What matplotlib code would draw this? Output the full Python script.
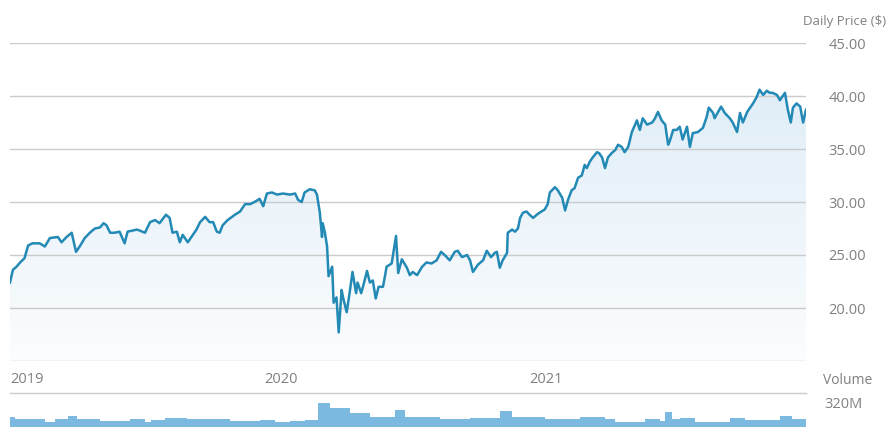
import numpy as np
import pandas as pd
import matplotlib
matplotlib.use('Agg')
import matplotlib.pyplot as plt
import matplotlib.dates as mdates
from matplotlib.transforms import ScaledTranslation

plt.rcParams['font.family'] = ['Open Sans', 'DejaVu Sans']

# days since 2019-01-01 and daily close ($)
DAY_OFFSETS = [
    -8, -4, 1, 6, 12, 17, 23, 33, 40, 47, 58, 63, 70, 77, 83, 88, 95, 102, 109, 116,
    121, 125, 130, 136, 143, 150, 154, 167, 171, 178, 185, 192, 198, 207, 212, 216, 222, 226, 230, 237,
    244, 249, 254, 261, 267, 272, 277, 281, 285, 292, 302, 309, 316, 323, 329, 336, 341, 346, 353, 360,
    368, 378, 385, 389, 394, 398, 405, 412, 415, 419, 422, 423, 426, 429, 431, 436, 438, 442, 445, 449,
    451, 456, 460, 464, 469, 471, 476, 480, 484, 488, 492, 496, 500, 506, 509, 511, 518, 524, 527, 532,
    539, 543, 547, 553, 560, 566, 573, 580, 586, 591, 598, 605, 609, 615, 622, 626, 630, 637, 644, 649,
    655, 660, 663, 667, 671, 677, 678, 684, 688, 692, 695, 699, 704, 708, 713, 718, 722, 729, 733, 736,
    743, 747, 753, 757, 761, 766, 770, 775, 780, 784, 787, 791, 795, 801, 804, 808, 812, 816, 821, 826,
    830, 835, 839, 844, 849, 856, 860, 864, 870, 877, 881, 885, 890, 895, 899, 901, 906, 911, 915, 919,
    925, 929, 933, 940, 947, 952, 955, 961, 963, 968, 972, 977, 984, 988, 994, 998, 1002, 1008, 1012, 1016,
    1021, 1025, 1030, 1035, 1039, 1043, 1049, 1053, 1060, 1064, 1068, 1071, 1076, 1081, 1085, 1089,
]
PRICES = [
    22.4, 23.6, 23.9, 24.3, 24.7, 25.9, 26.1, 26.1, 25.8, 26.6, 26.7, 26.2, 26.7, 27.1, 25.3, 25.8, 26.6, 27.1, 27.5, 27.6,
    28.0, 27.8, 27.1, 27.1, 27.2, 26.1, 27.2, 27.4, 27.3, 27.1, 28.1, 28.3, 28.0, 28.8, 28.5, 27.1, 27.2, 26.2, 26.9, 26.2,
    26.9, 27.4, 28.1, 28.6, 28.1, 28.1, 27.2, 27.1, 27.8, 28.3, 28.8, 29.1, 29.8, 29.8, 30.0, 30.3, 29.6, 30.8, 30.9, 30.7,
    30.8, 30.7, 30.8, 30.2, 30.0, 30.9, 31.2, 31.1, 30.7, 29.0, 26.7, 28.0, 27.1, 25.8, 23.0, 23.9, 20.5, 21.0, 17.7, 21.7,
    21.0, 19.6, 21.4, 23.4, 21.4, 22.4, 21.4, 22.4, 23.5, 22.4, 22.6, 20.9, 22.0, 22.0, 23.1, 23.9, 24.2, 26.8, 23.3, 24.6,
    23.8, 23.1, 23.4, 23.1, 23.9, 24.3, 24.2, 24.5, 25.3, 25.0, 24.5, 25.3, 25.4, 24.8, 25.0, 24.5, 23.4, 24.1, 24.5, 25.4,
    24.8, 25.2, 25.3, 23.8, 24.5, 25.2, 27.1, 27.4, 27.2, 27.5, 28.5, 29.0, 29.1, 28.8, 28.5, 28.8, 29.0, 29.3, 29.8, 30.9,
    31.4, 31.1, 30.4, 29.2, 30.2, 31.1, 31.3, 32.3, 32.5, 33.5, 33.2, 33.8, 34.2, 34.7, 34.6, 34.2, 33.2, 34.2, 34.6, 34.9,
    35.4, 35.2, 34.7, 35.2, 36.6, 37.7, 36.8, 37.9, 37.3, 37.5, 37.9, 38.5, 37.7, 37.3, 35.4, 35.7, 36.8, 36.8, 37.1, 35.9,
    37.1, 35.2, 36.5, 36.6, 37.0, 38.0, 38.9, 38.4, 37.9, 38.5, 39.0, 38.4, 37.9, 37.5, 36.6, 38.4, 37.5, 38.5, 38.9, 39.3,
    39.9, 40.6, 40.1, 40.5, 40.3, 40.3, 40.1, 39.6, 40.3, 38.7, 37.5, 38.9, 39.3, 39.0, 37.5, 38.7,
]

# volume blocks: start day and volume (millions)
VOL_START = [
    -8, -1, 40, 54, 72, 85, 116, 157, 178, 187, 205, 236, 295, 336, 357, 378, 398, 416, 433, 460,
    488, 522, 536, 584, 626, 667, 684, 729, 777, 812, 826, 867, 888, 894, 905, 915, 936, 984, 1005, 1053,
    1070,
]
VOLUME_M = [
    133, 106, 73, 106, 146, 100, 80, 100, 73, 93, 126, 100, 80, 93, 73, 80, 93, 320, 253, 186,
    133, 226, 133, 106, 120, 213, 133, 106, 133, 100, 73, 100, 80, 200, 106, 120, 73, 120, 93, 146,
    106,
]
END_DAY = 1089

YEAR_TICKS = ['2019-01-01', '2020-01-01', '2021-01-01']
YEAR_LABELS = ['2019', '2020', '2021']
PRICE_TICKS = [20, 25, 30, 35, 40, 45]

LINE_COLOR = '#2389b5'
GRID_COLOR = '#cbcbcb'
TEXT_COLOR = '#808080'
VOL_COLOR = '#7cb9e1'

base = pd.Timestamp('2019-01-01')
dates = base + pd.to_timedelta(DAY_OFFSETS, unit='D')
x = mdates.date2num(dates.to_pydatetime())
vol_edges = mdates.date2num((base + pd.to_timedelta(VOL_START + [END_DAY], unit='D')).to_pydatetime())
vol_vals = VOLUME_M + [VOLUME_M[-1]]

W, H = 886, 444
fig = plt.figure(figsize=(W / 100, H / 100), dpi=100)

left = 10 / W
width = 796 / W
ax = fig.add_axes([left, 1 - 361 / H, width, (361 - 43) / H])
axv = fig.add_axes([left, 1 - 427 / H, width, (427 - 393) / H])

ymin, ymax = 15, 45

# gradient fill under the line
poly = ax.fill_between(x, PRICES, ymin, color='none', lw=0)
grad = np.linspace(0, 1, 256).reshape(-1, 1)
cmap = matplotlib.colors.LinearSegmentedColormap.from_list('g', ['#fbfdfe', '#dcebf7'])
img = ax.imshow(grad, cmap=cmap, aspect='auto', origin='lower',
                extent=[x[0], x[-1], ymin, ymax], zorder=1)
img.set_clip_path(poly.get_paths()[0], transform=ax.transData)
ax.set_xlim(x[0], x[-1])
ax.set_ylim(ymin, ymax)

for v in range(15, 50, 5):
    ax.axhline(v, color=GRID_COLOR, lw=1.0, zorder=2)
ax.plot(x, PRICES, color=LINE_COLOR, lw=1.8, zorder=3, solid_joinstyle='round')

for s in ax.spines.values():
    s.set_visible(False)
ax.yaxis.tick_right()
ax.set_yticks(PRICE_TICKS)
ax.set_yticklabels([f'{p:.2f}' for p in PRICE_TICKS])
ax.tick_params(axis='y', length=0, pad=16, labelsize=10.5, labelcolor=TEXT_COLOR)

xt = mdates.date2num(pd.to_datetime(YEAR_TICKS).to_pydatetime())
ax.set_xticks(xt)
ax.set_xticklabels(YEAR_LABELS)
ax.tick_params(axis='x', length=0, pad=8, labelsize=10.5, labelcolor=TEXT_COLOR)
first = ax.get_xticklabels()[0]
first.set_horizontalalignment('left')
first.set_transform(first.get_transform() + ScaledTranslation(-6 / 100, 0, fig.dpi_scale_trans))

# volume panel
axv.fill_between(vol_edges, vol_vals, 0, step='post', color=VOL_COLOR, lw=0)
axv.set_xlim(x[0], x[-1])
axv.set_ylim(0, 453)
axv.axhline(453, color=GRID_COLOR, lw=1.0, clip_on=False)
for s in axv.spines.values():
    s.set_visible(False)
axv.set_xticks([])
axv.yaxis.tick_right()
axv.set_yticks([320])
axv.set_yticklabels(['320M'])
axv.tick_params(axis='y', length=0, pad=13, labelsize=10.5, labelcolor=TEXT_COLOR)

fig.text(803 / W, 1 - 22 / H, 'Daily Price ($)', fontsize=9.5, color=TEXT_COLOR,
         ha='left', va='center')
fig.text(823 / W, 1 - 380 / H, 'Volume', fontsize=10, color=TEXT_COLOR,
         ha='left', va='center')

fig.savefig('out.png', dpi=100)
